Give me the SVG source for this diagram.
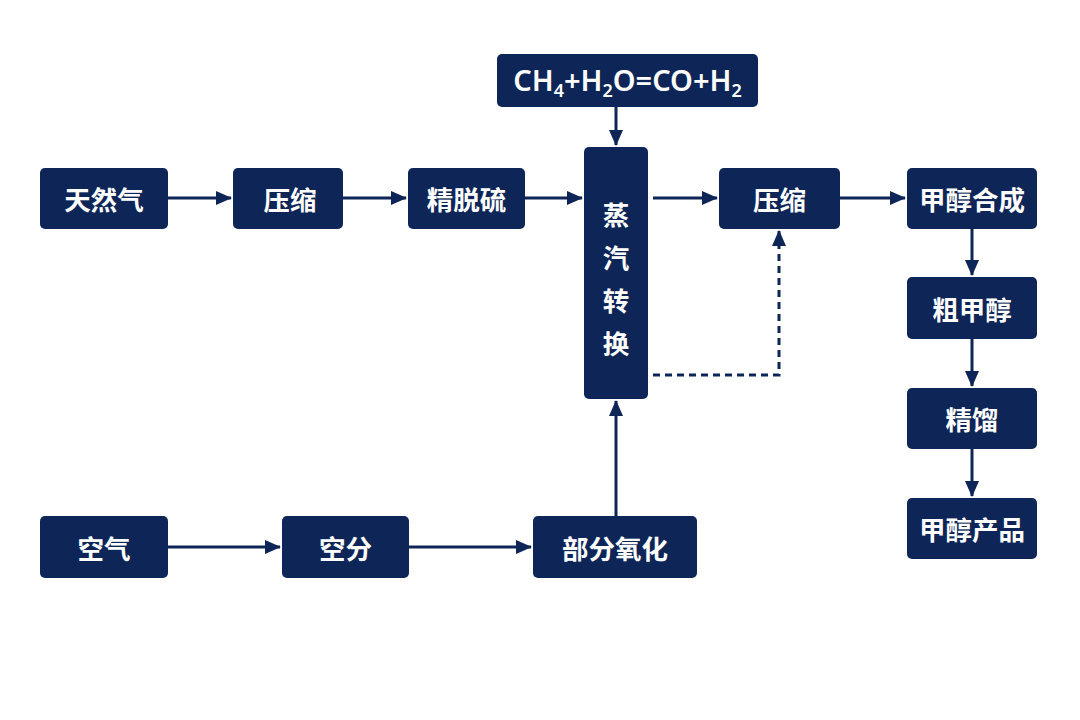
<svg xmlns="http://www.w3.org/2000/svg" width="1080" height="720" viewBox="0 0 1080 720">
<defs>
<style>
.n{fill:#0e2557;}
.t{fill:#ffffff;font-family:"Noto Sans CJK SC","Noto Sans",sans-serif;font-weight:700;font-size:26.5px;text-anchor:middle;dominant-baseline:central;}
.f{fill:#ffffff;font-family:"Noto Sans","Liberation Sans",sans-serif;font-weight:600;font-size:29px;}
.c{stroke:#0e2557;stroke-width:3;fill:none;}
.d{stroke-dasharray:7 5;}
</style>
<marker id="a" viewBox="0 0 16 14" refX="15" refY="7" markerWidth="16" markerHeight="14" markerUnits="userSpaceOnUse" orient="auto">
<path d="M0,0 L16,7 L0,14 Z" fill="#0e2557"/>
</marker>
</defs>
<rect width="1080" height="720" fill="#ffffff"/>
<g id="connectors">
<line class="c" x1="168" y1="198" x2="231" y2="198" marker-end="url(#a)"/>
<line class="c" x1="343" y1="198" x2="406" y2="198" marker-end="url(#a)"/>
<line class="c" x1="525" y1="198" x2="582" y2="198" marker-end="url(#a)"/>
<line class="c" x1="616" y1="107" x2="616" y2="145" marker-end="url(#a)"/>
<line class="c" x1="653" y1="198" x2="717" y2="198" marker-end="url(#a)"/>
<line class="c" x1="840" y1="198" x2="905" y2="198" marker-end="url(#a)"/>
<polyline class="c d" points="653,375 779,375 779,231" marker-end="url(#a)"/>
<line class="c" x1="972" y1="229" x2="972" y2="275" marker-end="url(#a)"/>
<line class="c" x1="972" y1="339" x2="972" y2="386" marker-end="url(#a)"/>
<line class="c" x1="972" y1="449" x2="972" y2="496" marker-end="url(#a)"/>
<line class="c" x1="168" y1="547" x2="280" y2="547" marker-end="url(#a)"/>
<line class="c" x1="409" y1="547" x2="531" y2="547" marker-end="url(#a)"/>
<line class="c" x1="616" y1="516" x2="616" y2="401" marker-end="url(#a)"/>
</g>
<g id="n-tianranqi"><rect class="n" x="40" y="168" width="128" height="61" rx="5"/><text class="t" x="104" y="198">天然气</text></g>
<g id="n-yasuo1"><rect class="n" x="233" y="168" width="110" height="61" rx="5"/><text class="t" x="290" y="198">压缩</text></g>
<g id="n-jingtuoliu"><rect class="n" x="408" y="168" width="117" height="61" rx="5"/><text class="t" x="466.5" y="198">精脱硫</text></g>
<g id="n-formula"><rect class="n" x="497" y="54" width="261" height="53" rx="5"/><text class="f" x="627.5" y="91" text-anchor="middle">CH<tspan font-size="18" dy="6">4</tspan><tspan dy="-6">+H</tspan><tspan font-size="18" dy="6">2</tspan><tspan dy="-6">O=CO+H</tspan><tspan font-size="18" dy="6">2</tspan></text></g>
<g id="n-zhengqi"><rect class="n" x="584" y="147" width="64" height="252" rx="5"/>
<text class="t" x="616" y="213">蒸</text><text class="t" x="616" y="256">汽</text><text class="t" x="616" y="299">转</text><text class="t" x="616" y="342">换</text></g>
<g id="n-yasuo2"><rect class="n" x="719" y="168" width="121" height="61" rx="5"/><text class="t" x="779.5" y="198">压缩</text></g>
<g id="n-hecheng"><rect class="n" x="907" y="168" width="130" height="61" rx="5"/><text class="t" x="972" y="198">甲醇合成</text></g>
<g id="n-cujiachun"><rect class="n" x="907" y="277" width="130" height="62" rx="5"/><text class="t" x="972" y="308">粗甲醇</text></g>
<g id="n-jingliu"><rect class="n" x="907" y="388" width="130" height="61" rx="5"/><text class="t" x="972" y="418.5">精馏</text></g>
<g id="n-chanpin"><rect class="n" x="907" y="498" width="130" height="61" rx="5"/><text class="t" x="972" y="528.5">甲醇产品</text></g>
<g id="n-kongqi"><rect class="n" x="40" y="516" width="128" height="62" rx="5"/><text class="t" x="104" y="547">空气</text></g>
<g id="n-kongfen"><rect class="n" x="282" y="516" width="127" height="62" rx="5"/><text class="t" x="345.5" y="547">空分</text></g>
<g id="n-yanghua"><rect class="n" x="533" y="516" width="164" height="62" rx="5"/><text class="t" x="615" y="547">部分氧化</text></g>
</svg>
